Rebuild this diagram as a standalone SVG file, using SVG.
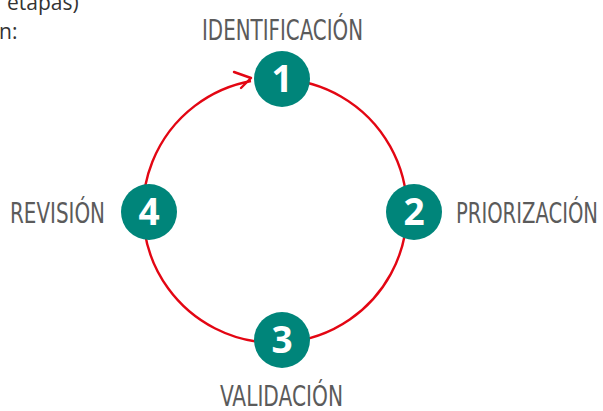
<svg xmlns="http://www.w3.org/2000/svg" width="603" height="411" viewBox="0 0 603 411">
<style>
.lbl{font-family:"DejaVu Sans Condensed","Liberation Sans",sans-serif;font-size:28px;fill:#5b5b5b}
.num{font-family:"Open Sans","Liberation Sans",sans-serif;font-weight:bold;font-size:37px;fill:#fff;text-anchor:middle}
.node{fill:#00857a}
.intro{font-family:"Open Sans","Liberation Sans",sans-serif;font-size:21px;fill:#333}
</style>
<rect width="603" height="411" fill="#fff"/>
<text class="intro" x="7" y="10">etapas)</text>
<text class="intro" x="-1" y="39">n:</text>
<g id="connectors" fill="none" stroke="#e30613" stroke-width="2.4">
<path d="M 251 81 A 132 132 0 1 0 282 79"/>
<path d="M 234 72 L 251 78 L 241 88" stroke-linecap="round" stroke-linejoin="round"/>
</g>
<g id="node1"><circle class="node" cx="282" cy="79" r="28"/><text class="num" x="282" y="92">1</text><text class="lbl" x="202" y="40" textLength="161" lengthAdjust="spacingAndGlyphs">IDENTIFICACIÓN</text></g>
<g id="node2"><circle class="node" cx="414" cy="212" r="28"/><text class="num" x="414" y="225">2</text><text class="lbl" x="456" y="223" textLength="142" lengthAdjust="spacingAndGlyphs">PRIORIZACIÓN</text></g>
<g id="node3"><circle class="node" cx="282" cy="340" r="28"/><text class="num" x="282" y="353">3</text><text class="lbl" x="220" y="406" textLength="123" lengthAdjust="spacingAndGlyphs">VALIDACIÓN</text></g>
<g id="node4"><circle class="node" cx="149" cy="212" r="28"/><text class="num" x="149" y="225">4</text><text class="lbl" x="10" y="223" textLength="95" lengthAdjust="spacingAndGlyphs">REVISIÓN</text></g>
</svg>
